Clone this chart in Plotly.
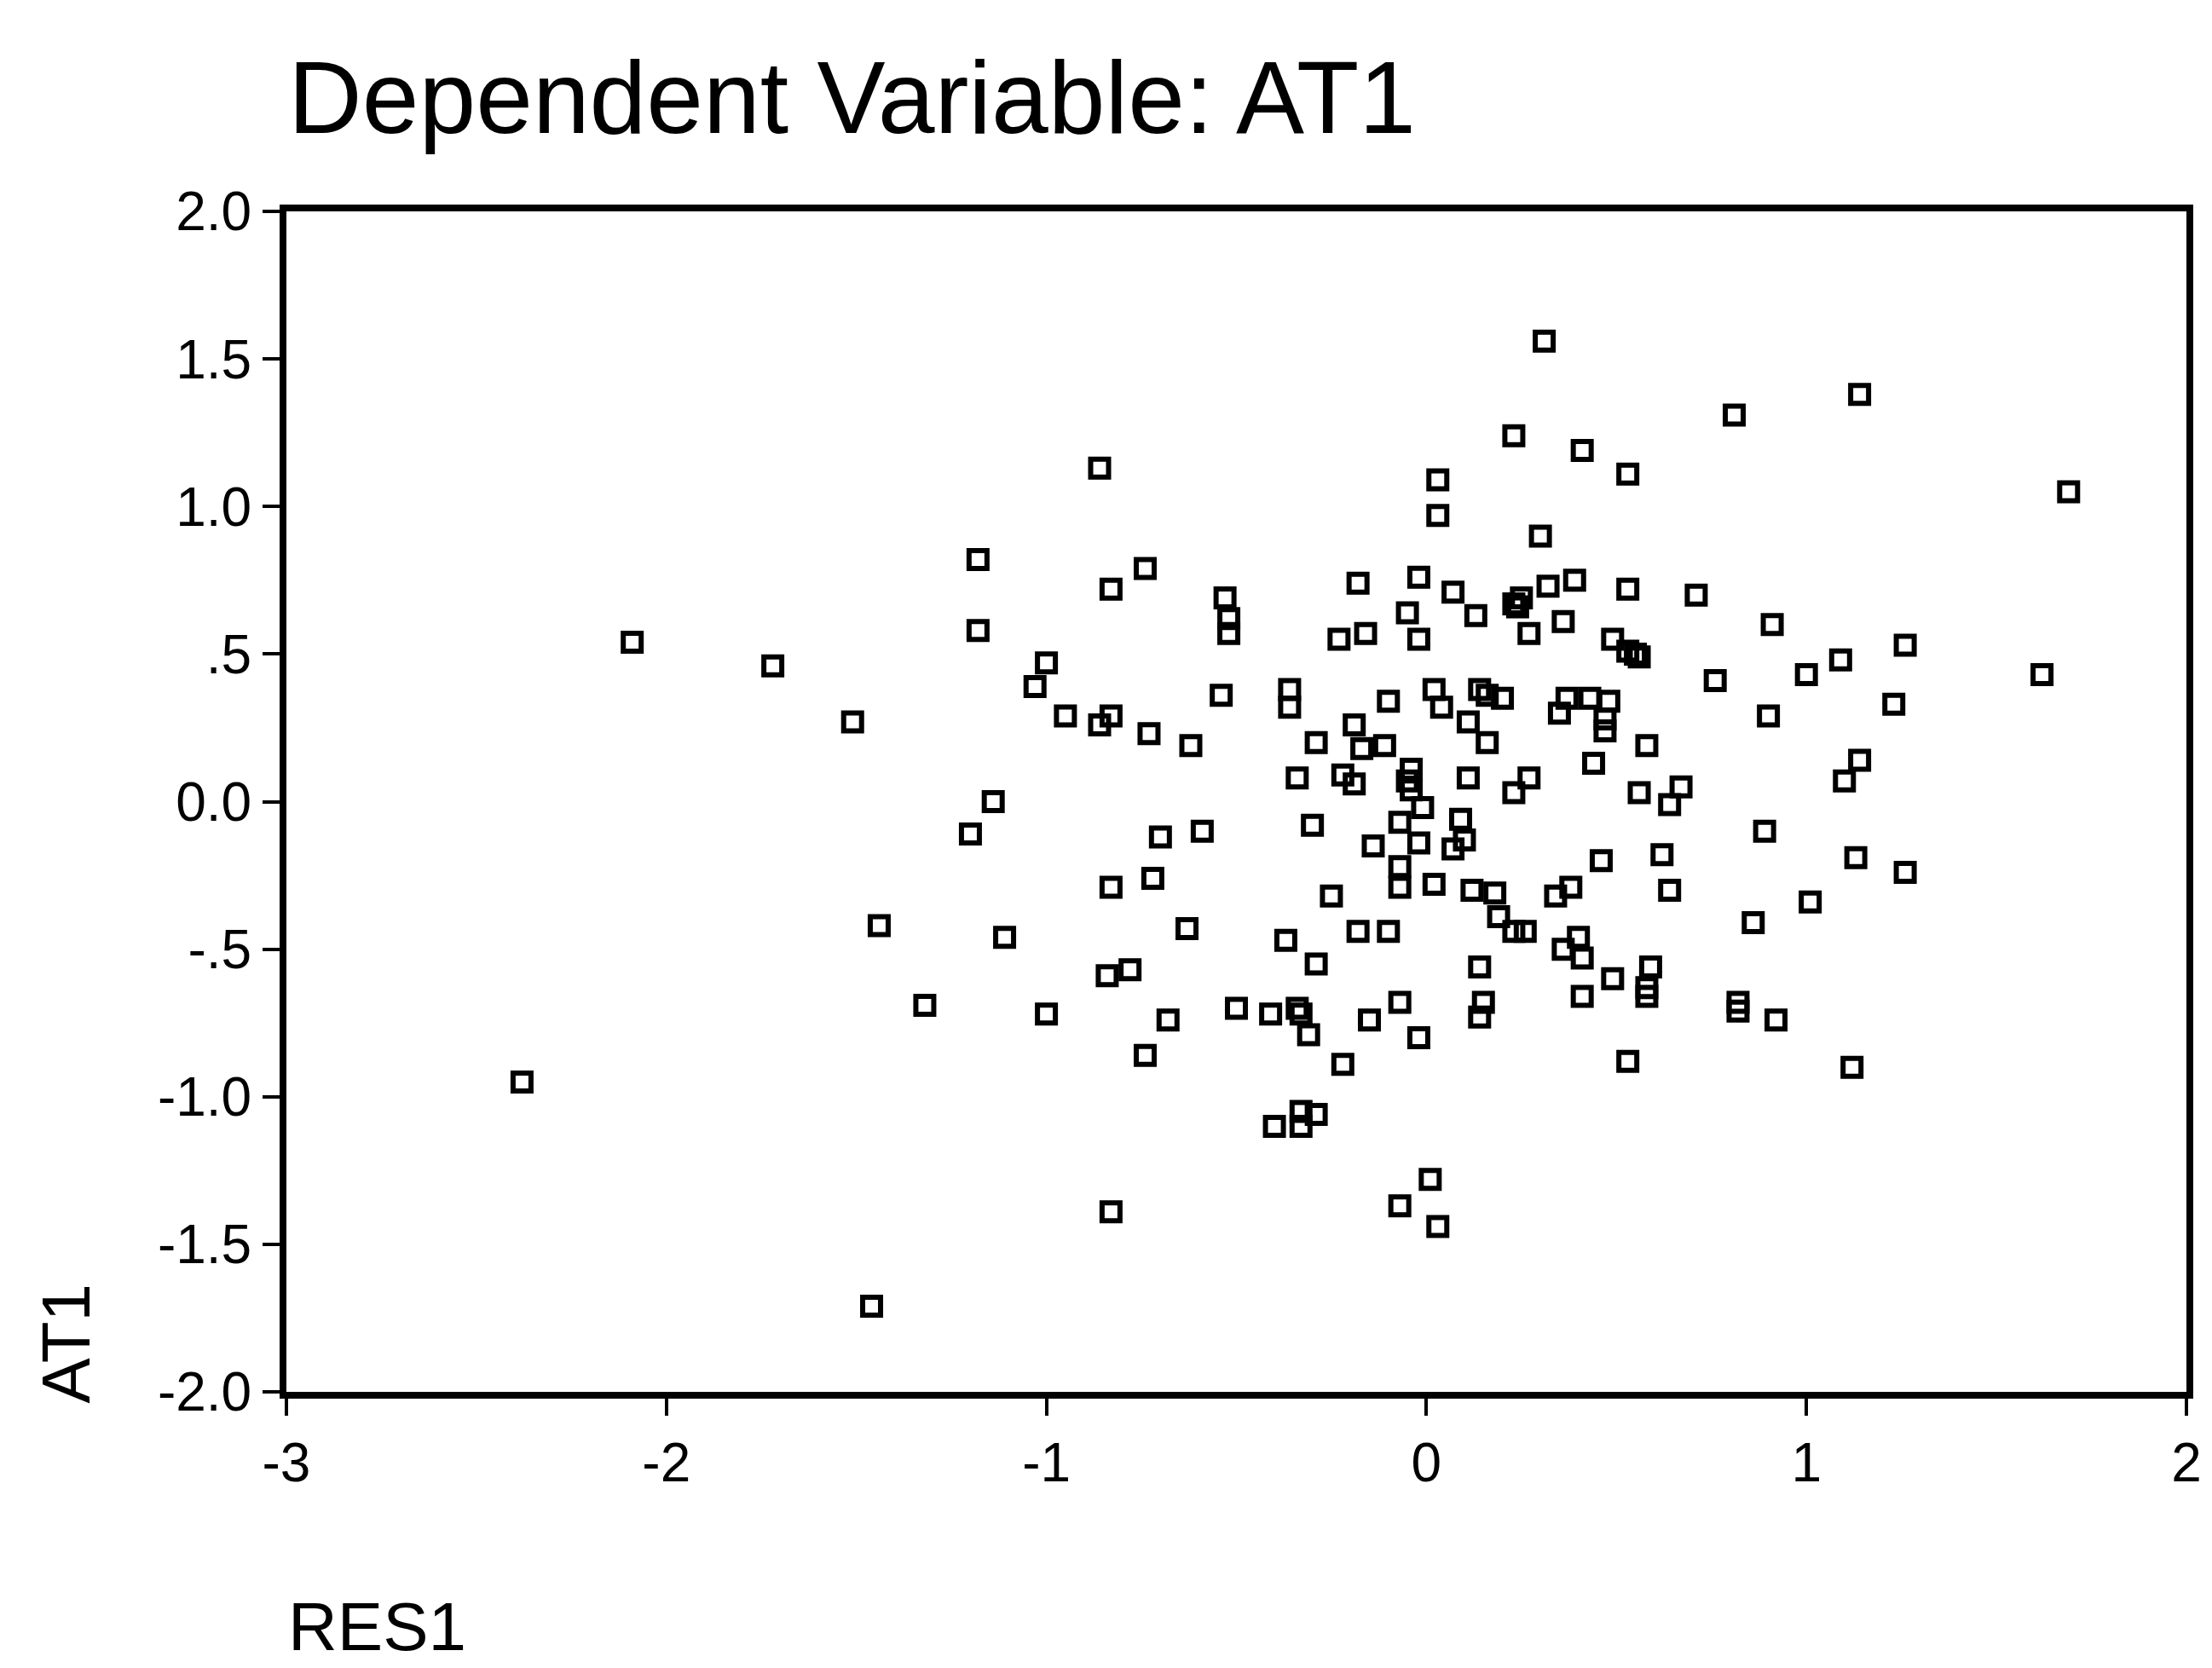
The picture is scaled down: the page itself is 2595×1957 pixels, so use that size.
import plotly.graph_objects as go

# RES1 (x) and AT1 (y) values
res1 = [
    0.31, 1.14, 0.81, 0.23, 0.41, 0.53, 0.03, -0.86, 1.69, 0.03,
    0.30, -1.18, -0.74, -0.83, -0.18, -0.02, 0.07, 0.39, 0.32, 0.53,
    0.71, -0.53, -0.52, -0.52, 0.13, 0.23, 0.25, 0.24, -0.05, 0.36,
    0.27, -0.16, -0.23, -0.02, 0.91, -1.18, -2.09, -1.72, -1.00, 0.49,
    0.53, 0.56, 0.55, 1.26, 1.09, 1.00, 1.62, -1.03, -0.36, -0.54,
    0.02, 0.14, 0.16, 0.20, 0.37, 0.43, 0.48, 0.76, 1.23, -0.10,
    -0.36, 0.04, -0.95, -1.51, -0.83, -0.86, 0.35, 0.47, 0.47, 0.90,
    -0.19, 0.11, 0.16, -0.73, -0.62, -0.29, -0.17, -0.11, 0.58, 0.44,
    1.14, -0.04, -0.22, -0.34, -0.19, -0.05, -0.04, 0.11, 0.27, 0.23,
    0.56, 0.67, 1.10, 0.64, -0.01, -1.14, -1.20, -0.07, 0.09, -0.30,
    -0.59, -0.70, 0.89, 0.10, -0.02, -0.14, 0.07, 0.62, 0.46, 1.13,
    -0.07, 1.26, 0.02, -0.83, -0.72, -0.07, 0.12, 0.18, 0.38, 0.34,
    0.64, -0.25, 1.01, 0.19, 0.23, 0.26, -0.63, -1.44, -0.18, -0.10,
    0.86, -1.11, -0.37, 0.40, 0.36, 0.41, -0.29, 0.14, 0.59, 0.49,
    0.58, 0.58, -0.84, -0.78, 0.41, -1.32, -0.50, -0.41, -0.34, -0.33,
    -0.07, 0.15, 0.14, 0.82, 0.82, 0.92, -1.00, -0.68, -0.15, -0.31,
    -0.02, -0.74, -0.22, 0.53, 1.12, -2.38, -0.40, -0.33, -0.29, -0.33,
    0.01, -0.07, 0.03, -0.83, -1.46,
]
at1 = [
    1.56, 1.38, 1.31, 1.24, 1.19, 1.11, 1.09, 1.13, 1.05, 0.97,
    0.90, 0.82, 0.79, 0.72, 0.74, 0.76, 0.71, 0.75, 0.73, 0.72,
    0.70, 0.69, 0.62, 0.57, 0.63, 0.67, 0.69, 0.66, 0.64, 0.61,
    0.57, 0.57, 0.55, 0.55, 0.60, 0.58, 0.54, 0.46, 0.47, 0.55,
    0.51, 0.49, 0.50, 0.53, 0.48, 0.43, 0.43, 0.39, 0.38, 0.36,
    0.38, 0.38, 0.36, 0.35, 0.35, 0.35, 0.34, 0.41, 0.33, 0.34,
    0.32, 0.32, 0.29, 0.27, 0.29, 0.26, 0.30, 0.28, 0.24, 0.29,
    0.26, 0.27, 0.20, 0.23, 0.19, 0.20, 0.18, 0.19, 0.19, 0.13,
    0.14, 0.11, 0.09, 0.08, 0.06, 0.07, 0.04, 0.08, 0.08, 0.03,
    0.03, 0.05, 0.07, -0.01, -0.02, 0.00, -0.11, -0.07, -0.06, -0.08,
    -0.10, -0.12, -0.10, -0.13, -0.14, -0.15, -0.16, -0.18, -0.20, -0.19,
    -0.22, -0.24, -0.28, -0.29, -0.26, -0.29, -0.30, -0.31, -0.29, -0.32,
    -0.30, -0.32, -0.34, -0.39, -0.44, -0.44, -0.43, -0.42, -0.44, -0.44,
    -0.41, -0.46, -0.47, -0.46, -0.50, -0.53, -0.55, -0.56, -0.56, -0.60,
    -0.63, -0.66, -0.59, -0.57, -0.66, -0.69, -0.70, -0.72, -0.70, -0.72,
    -0.68, -0.68, -0.73, -0.68, -0.71, -0.74, -0.72, -0.74, -0.74, -0.79,
    -0.80, -0.86, -0.89, -0.88, -0.90, -0.95, -1.10, -1.05, -1.06, -1.10,
    -1.28, -1.37, -1.44, -1.39, -1.71,
]

x_ticks = [-3, -2, -1, 0, 1, 2]
x_tick_labels = ["-3", "-2", "-1", "0", "1", "2"]
y_ticks = [2.0, 1.5, 1.0, 0.5, 0.0, -0.5, -1.0, -1.5, -2.0]
y_tick_labels = ["2.0", "1.5", "1.0", ".5", "0.0", "-.5", "-1.0", "-1.5", "-2.0"]

W, H = 2595, 1957
L, R, T, B = 336, 24, 248, 324
FONT = "Arial, Liberation Sans, sans-serif"

fig = go.Figure(
    go.Scatter(
        x=res1, y=at1, mode="markers",
        marker=dict(symbol="square-open", size=21, color="black",
                    line=dict(width=6, color="black")),
        showlegend=False, hoverinfo="x+y",
    )
)

axis_common = dict(
    showline=True, linecolor="black", linewidth=8, mirror=True,
    showgrid=False, zeroline=False, ticks="outside", ticklen=20,
    tickwidth=4, tickcolor="black",
    tickfont=dict(family=FONT, size=64, color="black"),
)
fig.update_xaxes(range=[-3, 2], tickvals=x_ticks, ticktext=x_tick_labels, **axis_common)
fig.update_yaxes(range=[-2, 2], tickvals=y_ticks, ticktext=y_tick_labels, **axis_common)

ph = H - T - B
fig.add_annotation(text="Dependent Variable: AT1", xref="paper", yref="paper",
                   x=0, y=(H - B - 114) / ph, xanchor="left", yanchor="middle",
                   showarrow=False, font=dict(family=FONT, size=120, color="black"))
fig.add_annotation(text="RES1", xref="paper", yref="paper",
                   x=0, y=(H - B - 1908) / ph, xanchor="left", yanchor="middle",
                   showarrow=False, font=dict(family=FONT, size=80, color="black"))
fig.add_annotation(text="AT1", xref="paper", yref="paper",
                   x=(76 - L) / (W - L - R), y=(H - B - 1576) / ph,
                   xanchor="center", yanchor="middle", textangle=-90,
                   showarrow=False, font=dict(family=FONT, size=80, color="black"))

fig.update_layout(
    width=W, height=H,
    margin=dict(l=L, r=R, t=T, b=B),
    paper_bgcolor="white", plot_bgcolor="white",
)

fig.write_html("out.html")
